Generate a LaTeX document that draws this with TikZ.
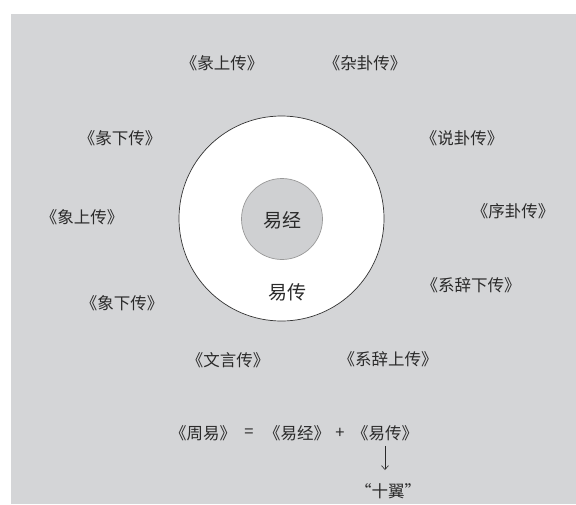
\documentclass[tikz,border=0pt]{standalone}
\usepackage{fontspec}
\setmainfont{Noto Sans CJK SC}
\usetikzlibrary{arrows.meta}
\definecolor{bg}{HTML}{D4D5D7}
\definecolor{inner}{HTML}{CFD0D2}
\definecolor{txt}{HTML}{2A2A2A}
\tikzset{
  wing/.style={text=txt, font=\fontsize{16.5}{18}\selectfont, inner sep=0pt},
  core/.style={text=txt, font=\fontsize{19}{22}\selectfont, inner sep=0pt}
}
\begin{document}
\begin{tikzpicture}[x=1pt,y=-1pt]
\useasboundingbox (0,0) rectangle (576,504);
\fill[white] (0,0) rectangle (576,504);
\fill[bg] (11,14) rectangle (576,504);
\node[circle, draw=black!80, line width=0.7pt, fill=white, minimum size=205pt, inner sep=0pt] (outer) at (281.5,218.5) {};
\node[circle, draw=black!40, line width=0.7pt, fill=inner, minimum size=81pt, inner sep=0pt] (innerc) at (282,219) {};
\node[core] (yj) at (282,220) {易经};
\node[core] (yz) at (287,292) {易传};
\node[wing] (w1) at (222,63) {《彖上传》};
\node[wing] (w2) at (365,63) {《杂卦传》};
\node[wing] (w3) at (120,138) {《彖下传》};
\node[wing] (w4) at (82,217) {《象上传》};
\node[wing] (w5) at (462,138) {《说卦传》};
\node[wing] (w6) at (513,211) {《序卦传》};
\node[wing] (w7) at (122,303) {《象下传》};
\node[wing] (w8) at (228,360) {《文言传》};
\node[wing] (w9) at (471,285) {《系辞下传》};
\node[wing] (w10) at (388,359) {《系辞上传》};
\node[wing] (p1) at (203,433) {《周易》};
\node[wing] (eq) at (249,433) {=};
\node[wing] (p2) at (297,433) {《易经》};
\node[wing] (pl) at (340,433) {+};
\node[wing] (f2) at (385,433) {《易传》};
\node[wing] (sy) at (388,491) {“十翼”};
\draw[-{Straight Barb[length=4pt,width=7pt]}, line width=0.6pt, txt] ([yshift=-5pt]f2.south) coordinate (a0) -- (385,470) coordinate (a1);
\end{tikzpicture}
\end{document}
